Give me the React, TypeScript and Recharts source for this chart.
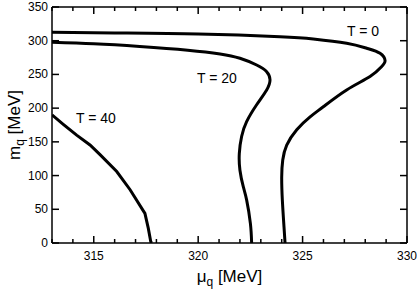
import { LineChart, Line, XAxis, YAxis, ReferenceDot, Label } from "recharts"

// mu_q [MeV] and m_q [MeV] along each curve
const t0Mu = [313, 316, 320, 323.92, 325.51, 327.11, 328.07, 328.71, 328.95, 328.79, 328.23, 327.11, 325.99, 325.36, 324.72, 324.24, 324.05, 324.0, 324.03, 324.11, 324.16]
const t0M = [312.6, 311.5, 310, 306, 302.7, 296.3, 288.9, 281.4, 270.5, 261.6, 246.8, 227, 202, 187, 168, 145, 123, 98, 64, 24, 0]

const t20Mu = [313, 315, 317.2, 319.5, 321.05, 322.0, 322.8, 323.28, 323.44, 323.28, 322.8, 322.32, 322.08, 321.97, 322.0, 322.16, 322.32, 322.5, 322.56]
const t20M = [297.7, 295.5, 291.5, 286, 280.4, 274, 264, 254, 242, 227, 205, 180, 158, 133, 108, 83.5, 64, 29, 0]

const t40Mu = [313, 313.54, 314.18, 314.82, 315.3, 316.1, 316.74, 317.45, 317.61, 317.73, 317.77]
const t40M = [190, 176, 160, 145.4, 131, 106, 79, 44, 22, 2, 0]

const xTicks = Array.from({ length: 18 }, (_, i) => 313 + i)
const yTicks = [0, 50, 100, 150, 200, 250, 300, 350]

const labels = [
  { text: "T = 0", mu: 327.9, m: 314 },
  { text: "T = 20", mu: 320.9, m: 245 },
  { text: "T = 40", mu: 315.1, m: 186 },
]

const toPoints = (mu: number[], m: number[]) => mu.map((x, i) => ({ mu: x, m: m[i] }))

const FONT = "'Liberation Sans', Arial, sans-serif"

const BottomTick = ({ x, y, payload }: any) => {
  const major = payload.value % 5 === 0
  return (
    <g>
      <line x1={x} x2={x} y1={y} y2={y - (major ? 7 : 4)} stroke="#000" strokeWidth={1.5} />
      {major && (
        <text x={x} y={y} dy={17} textAnchor="middle" fontSize={12} fontFamily={FONT} fill="#000">
          {payload.value}
        </text>
      )}
    </g>
  )
}

const TopTick = ({ x, y, payload }: any) => {
  const major = payload.value % 5 === 0
  return <line x1={x} x2={x} y1={y} y2={y + (major ? 7 : 4)} stroke="#000" strokeWidth={1.5} />
}

const LeftTick = ({ x, y, payload }: any) => (
  <g>
    <line x1={x} x2={x + 7} y1={y} y2={y} stroke="#000" strokeWidth={1.5} />
    <text x={x - 4} y={y} dy={4} textAnchor="end" fontSize={12} fontFamily={FONT} fill="#000">
      {payload.value}
    </text>
  </g>
)

const RightTick = ({ x, y }: any) => <line x1={x} x2={x - 7} y1={y} y2={y} stroke="#000" strokeWidth={1.5} />

const XTitle = ({ viewBox }: any) => {
  const cx = viewBox.x + viewBox.width / 2
  return (
    <text x={cx} y={viewBox.y + 39} textAnchor="middle" fontSize={17} fontFamily={FONT} fill="#000">
      μ<tspan fontSize={12} dy={4}>q</tspan>
      <tspan dy={-4}> [MeV]</tspan>
    </text>
  )
}

const YTitle = ({ viewBox }: any) => {
  const cy = viewBox.y + viewBox.height / 2
  return (
    <text x={20} y={cy} transform={`rotate(-90, 20, ${cy})`} textAnchor="middle" fontSize={17} fontFamily={FONT} fill="#000">
      m<tspan fontSize={12} dy={4}>q</tspan>
      <tspan dy={-4}> [MeV]</tspan>
    </text>
  )
}

export default function App() {
  return (
    <div style={{ width: 417, height: 292, background: "#fff" }}>
      <style>{`body{margin:0}`}</style>
      <LineChart width={417} height={292} margin={{ top: 0, right: 0, bottom: 0, left: 0 }}>
        <XAxis
          type="number"
          dataKey="mu"
          domain={[313, 330]}
          ticks={xTicks}
          interval={0}
          tickSize={0}
          tickMargin={0}
          tick={<BottomTick />}
          height={49}
          axisLine={{ stroke: "#000", strokeWidth: 1.5 }}
          allowDataOverflow
        >
          <Label content={<XTitle />} />
        </XAxis>
        <XAxis
          xAxisId="top"
          orientation="top"
          type="number"
          dataKey="mu"
          domain={[313, 330]}
          ticks={xTicks}
          interval={0}
          tickSize={0}
          tickMargin={0}
          tick={<TopTick />}
          height={7}
          axisLine={{ stroke: "#000", strokeWidth: 1.5 }}
          allowDataOverflow
        />
        <YAxis
          type="number"
          domain={[0, 350]}
          ticks={yTicks}
          interval={0}
          tickSize={0}
          tickMargin={0}
          tick={<LeftTick />}
          width={52}
          axisLine={{ stroke: "#000", strokeWidth: 1.5 }}
          allowDataOverflow
        >
          <Label content={<YTitle />} />
        </YAxis>
        <YAxis
          yAxisId="right"
          orientation="right"
          type="number"
          domain={[0, 350]}
          ticks={yTicks}
          interval={0}
          tickSize={0}
          tickMargin={0}
          tick={<RightTick />}
          width={10}
          axisLine={{ stroke: "#000", strokeWidth: 1.5 }}
          allowDataOverflow
        />
        <Line data={toPoints(t0Mu, t0M)} dataKey="m" type="natural" stroke="#000" strokeWidth={3} dot={false} isAnimationActive={false} />
        <Line data={toPoints(t20Mu, t20M)} dataKey="m" type="natural" stroke="#000" strokeWidth={3} dot={false} isAnimationActive={false} />
        <Line data={toPoints(t40Mu, t40M)} dataKey="m" type="linear" stroke="#000" strokeWidth={3} dot={false} isAnimationActive={false} />
        {labels.map((l) => (
          <ReferenceDot
            key={l.text}
            x={l.mu}
            y={l.m}
            r={1}
            fill="none"
            stroke="none"
            label={{ value: l.text, position: "center", fontSize: 14, fill: "#000", fontFamily: FONT }}
          />
        ))}
      </LineChart>
    </div>
  )
}
